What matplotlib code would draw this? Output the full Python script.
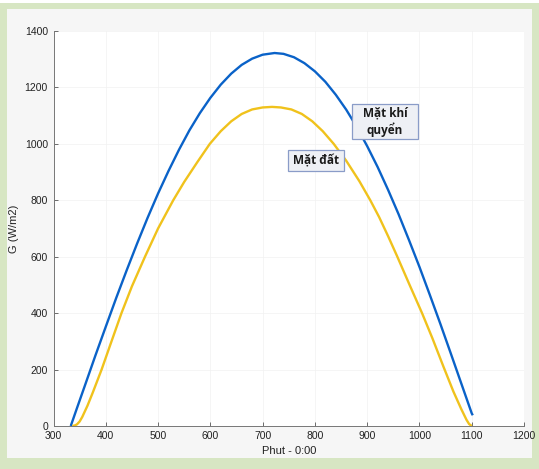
import numpy as np
import matplotlib
matplotlib.use("Agg")
from matplotlib import pyplot as plt
from matplotlib.patches import Rectangle

# Extraterrestrial (top of atmosphere) irradiance
phut_kq = [333, 345, 360, 380, 400, 420, 440, 460, 480, 500, 520, 540, 560, 580,
           600, 620, 640, 660, 680, 700, 723, 740, 760, 780, 800, 820, 840, 860,
           880, 900, 920, 940, 960, 980, 1000, 1020, 1040, 1060, 1080, 1100, 1102]
g_kq = [0, 64, 143, 249, 352, 454, 552, 647, 738, 824, 904, 979, 1048, 1109,
        1163, 1210, 1249, 1280, 1302, 1316, 1322, 1319, 1307, 1286, 1257, 1220, 1174, 1121,
        1060, 992, 918, 837, 751, 659, 564, 464, 362, 257, 151, 45, 38]

# Irradiance at ground level
phut_md = [336, 341, 345, 350, 355, 365, 375, 392, 410, 430, 450, 475, 500, 529,
           550, 575, 599, 620, 640, 660, 680, 700, 718, 735, 755, 775, 795, 815,
           836, 860, 885, 906, 923, 940, 957, 980, 1005, 1025, 1046, 1065, 1080,
           1090, 1095, 1100]
g_md = [0, 2, 6, 16, 32, 72, 118, 200, 295, 400, 495, 600, 700, 800,
        865, 935, 1000, 1045, 1080, 1106, 1122, 1129, 1131, 1129, 1122, 1106, 1080, 1045,
        1000, 940, 868, 800, 740, 673, 603, 505, 400, 310, 210, 122, 60,
        22, 7, 0]

x_ticks = [300, 400, 500, 600, 700, 800, 900, 1000, 1100, 1200]
y_ticks = [0, 200, 400, 600, 800, 1000, 1200, 1400]

plt.rcParams["font.family"] = ["Liberation Sans", "DejaVu Sans"]

fig = plt.figure(figsize=(5.39, 4.69), dpi=100)
fig.patch.set_facecolor("white")
# green frame and grey panel behind the axes
fig.patches.append(Rectangle((0, 0), 1, 1 - 3 / 469, transform=fig.transFigure,
                             facecolor="#d7e6c3", edgecolor="none", zorder=-3))
fig.patches.append(Rectangle((7 / 539, 11 / 469), 1 - 14 / 539, 1 - 20 / 469,
                             transform=fig.transFigure, facecolor="#f6f6f6",
                             edgecolor="none", zorder=-2))

ax = fig.add_axes([53.5 / 539, 1 - 426 / 469, 470.5 / 539, 395 / 469])
ax.set_facecolor("white")
ax.plot(phut_kq, g_kq, color="#0a62c8", lw=1.7, solid_capstyle="butt")
ax.plot(phut_md, g_md, color="#f0c21c", lw=1.7, solid_capstyle="butt")

ax.set_xlim(300, 1200)
ax.set_ylim(0, 1400)
ax.set_xticks(x_ticks)
ax.set_yticks(y_ticks)
ax.tick_params(direction="in", length=3, width=0.6, color="#555555",
               labelsize=7.5, labelcolor="#222222")
ax.tick_params(axis="x", pad=3.5)
ax.tick_params(axis="y", pad=4)
ax.grid(True, color="#f1f1f1", lw=0.5)
for s in ["top", "right"]:
    ax.spines[s].set_visible(False)
for s in ["left", "bottom"]:
    ax.spines[s].set_color("#777777")
    ax.spines[s].set_linewidth(0.7)

ax.set_xlabel("Phut - 0:00", fontsize=8, color="#222222", labelpad=4)
ax.set_ylabel("G (W/m2)", fontsize=8, color="#222222", labelpad=4)

# label boxes
for (x0, y0, w, h) in [(871, 1017, 126, 124), (749, 904, 107, 74)]:
    ax.add_patch(Rectangle((x0, y0), w, h, facecolor="#eef0f5", edgecolor="#8a9cc8",
                           lw=0.9, zorder=3))
ax.text(934, 1079, "Mặt khí\nquyển", ha="center", va="center", fontsize=8.5,
        fontweight="bold", family=["Open Sans", "DejaVu Sans"], color="#1a1a1a",
        linespacing=1.25, zorder=4)
ax.text(802, 941, "Mặt đất", ha="center", va="center", fontsize=8.5,
        fontweight="bold", family=["Open Sans", "DejaVu Sans"], color="#1a1a1a",
        zorder=4)

fig.savefig("out.png", dpi=100)
